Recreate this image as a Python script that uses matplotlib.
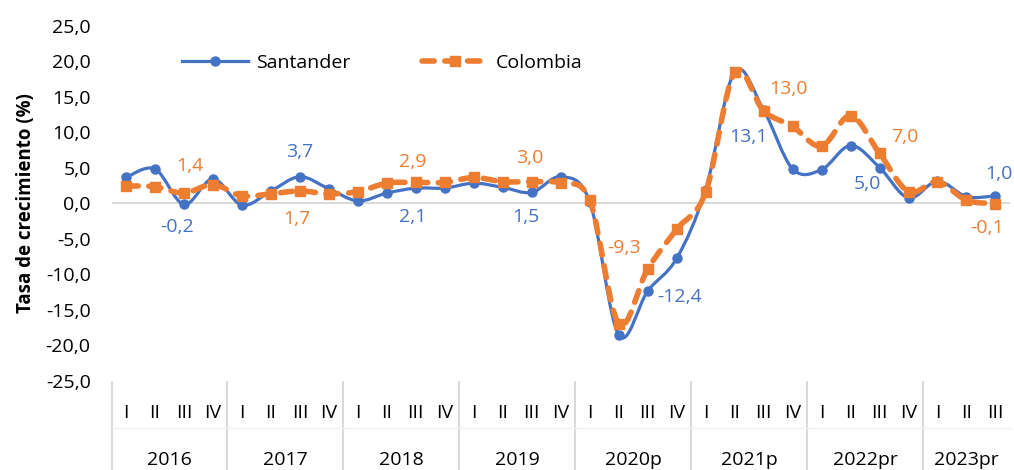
import matplotlib.pyplot as plt
import numpy as np
from matplotlib.path import Path
from matplotlib.patches import PathPatch
from matplotlib.lines import Line2D
import matplotlib.transforms as mtransforms

plt.rcParams['font.family'] = ['Open Sans', 'DejaVu Sans']

# Data
years = ['2016', '2017', '2018', '2019', '2020p', '2021p', '2022pr', '2023pr']
quarters = ['I', 'II', 'III', 'IV']
n_quarters = [4, 4, 4, 4, 4, 4, 4, 3]
santander = [3.6, 4.8, -0.2, 3.4, -0.3, 1.7, 3.7, 2.0, 0.3, 1.4, 2.1, 2.1, 2.8, 2.2, 1.5, 3.7,
             0.2, -18.6, -12.4, -7.8, 1.9, 18.5, 13.1, 4.8, 4.7, 8.1, 5.0, 0.7, 3.1, 0.9, 1.0]
colombia = [2.4, 2.3, 1.4, 2.6, 1.0, 1.3, 1.7, 1.3, 1.6, 2.8, 2.9, 2.9, 3.6, 3.0, 3.0, 2.8,
            0.4, -17.0, -9.3, -3.7, 1.5, 18.4, 13.0, 10.8, 8.0, 12.3, 7.0, 1.6, 3.0, 0.4, -0.1]

# which points carry a data label (quarter III of each year)
label_idx = [2, 6, 10, 14, 18, 22, 26, 30]
santander_off = [(-7, -23), (0, 25), (-3, -29), (-6, -25), (32, -6), (-15, -27), (-12, -16), (3, 22)]
colombia_off = [(6, 27), (-3, -28), (-3, 20), (-2, 24), (-24, 21), (25, 22), (25, 16), (-8, -24)]

blue = '#4472C4'
orange = '#ED7D31'
grey = '#D9D9D9'


def smooth_path(xs, ys):
    # bezier curve through the points (like Excel "smoothed line")
    p = np.column_stack([xs, ys]).astype(float)
    pp = np.vstack([p[0], p, p[-1]])
    verts = [p[0]]
    codes = [Path.MOVETO]
    for i in range(len(p) - 1):
        c1 = pp[i + 1] + (pp[i + 2] - pp[i]) / 6
        c2 = pp[i + 2] - (pp[i + 3] - pp[i + 1]) / 6
        verts += [c1, c2, pp[i + 2]]
        codes += [Path.CURVE4] * 3
    return Path(verts, codes)


def fmt(v):
    return f'{v:.1f}'.replace('.', ',')


fig = plt.figure(figsize=(10.14, 4.7), dpi=100)
ax = fig.add_axes([0.110, 0.1904, 0.886, 0.7553])

x = np.arange(len(santander))
ax.axhline(0, color=grey, lw=1.4, zorder=1)

p1 = PathPatch(smooth_path(x, santander), fill=False, edgecolor=blue, lw=2.3, zorder=3,
               capstyle='round', joinstyle='round')
ax.add_patch(p1)
ax.plot(x, santander, ls='none', marker='o', ms=6.5, color=blue, zorder=3)

p2 = PathPatch(smooth_path(x, colombia), fill=False, edgecolor=orange, lw=4, zorder=4,
               linestyle=(0, (2.2, 1.9)), capstyle='round', joinstyle='round')
ax.add_patch(p2)
ax.plot(x, colombia, ls='none', marker='s', ms=7.5, color=orange, zorder=4)

for k, i in enumerate(label_idx):
    ax.annotate(fmt(santander[i]), (i, santander[i]), xytext=santander_off[k],
                textcoords='offset pixels', ha='center', va='center', color=blue, fontsize=14,
                annotation_clip=False)
    ax.annotate(fmt(colombia[i]), (i, colombia[i]), xytext=colombia_off[k],
                textcoords='offset pixels', ha='center', va='center', color=orange, fontsize=14,
                annotation_clip=False)

ax.set_xlim(-0.5, 30.5)
ax.set_ylim(-25, 25)
yt = np.arange(-25, 26, 5)
ax.set_yticks(yt)
ax.set_yticklabels([fmt(v) for v in yt], fontsize=14)
ax.tick_params(axis='y', length=0, pad=15)
ax.set_xticks([])
for s in ax.spines.values():
    s.set_visible(False)
ax.set_ylabel('Tasa de crecimiento (%)', fontsize=13.5, fontweight='bold', labelpad=7)

# two-level category axis
trans = mtransforms.blended_transform_factory(ax.transData, ax.transAxes)
pos = 0
for yr, nq in zip(years, n_quarters):
    for q in range(nq):
        ax.text(pos + q, -0.092, quarters[q], transform=trans, ha='center', va='center',
                fontsize=14)
    ax.text(pos + (nq - 1) / 2, -0.224, yr, transform=trans, ha='center', va='center',
            fontsize=14)
    ax.plot([pos - 0.5, pos - 0.5], [-0.005, -0.26], transform=trans, color=grey, lw=1.5,
            clip_on=False)
    pos += nq
ax.plot([-0.5, 30.5], [-0.134, -0.134], transform=trans, color='#F0F0F0', lw=1, clip_on=False)

handles = [Line2D([], [], color=blue, lw=2.3, marker='o', ms=6.5),
           Line2D([], [], color=orange, lw=4, ls=(0, (2.2, 1.9)), marker='s', ms=7.5,
                  dash_capstyle='round')]
ax.legend(handles, ['Santander', 'Colombia'], loc='center left', bbox_to_anchor=(0.059, 0.894),
          ncol=2, frameon=False, fontsize=14, handlelength=3.4, handletextpad=0.4,
          columnspacing=3.7, numpoints=1)

fig.savefig('out.png', dpi=100)
